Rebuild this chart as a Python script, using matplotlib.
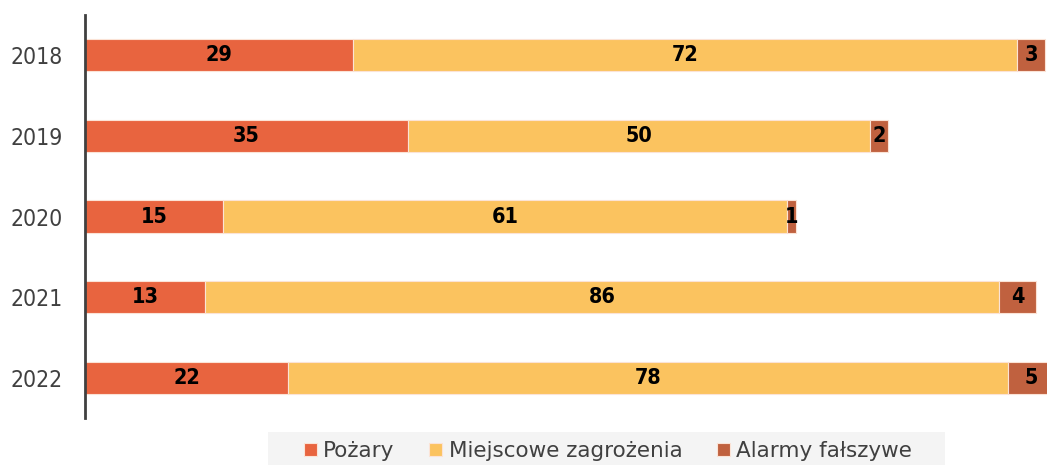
import matplotlib
matplotlib.use("Agg")
import matplotlib.pyplot as plt
from matplotlib.patches import Rectangle
import numpy as np

years = ["2018", "2019", "2020", "2021", "2022"]
pozary = [29, 35, 15, 13, 22]
miejscowe = [72, 50, 61, 86, 78]
alarmy = [3, 2, 1, 4, 5]

series = [
    ("Pożary", pozary, "#E8643F"),
    ("Miejscowe zagrożenia", miejscowe, "#FBC35F"),
    ("Alarmy fałszywe", alarmy, "#C0613F"),
]

plt.rcParams["font.family"] = ["DejaVu Sans"]
plt.rcParams["font.stretch"] = "condensed"

W, H = 1047, 465
fig = plt.figure(figsize=(W / 100, H / 100), dpi=100)
ax = fig.add_axes([85 / W, 1 - 418 / H, 1 - 85 / W, 403 / H])

y = np.arange(len(years))
left = np.zeros(len(years))
for name, vals, color in series:
    vals = np.array(vals, dtype=float)
    ax.barh(y, vals, left=left, height=0.4, color=color,
            edgecolor="#FBE3D6", linewidth=0.8, label=name)
    for yi, l, v in zip(y, left, vals):
        ax.text(l + v / 2, yi, f"{int(v)}", ha="center", va="center",
                fontsize=15.5, fontweight="bold", color="black")
    left += vals

ax.set_xlim(0, 104.2)
ax.set_ylim(4.5, -0.5)
ax.set_yticks(y)
ax.set_yticklabels(years, fontsize=16.5, color="#404040")
ax.tick_params(axis="y", length=0, pad=16)
ax.set_xticks([])
for s in ["top", "right", "bottom"]:
    ax.spines[s].set_visible(False)
ax.spines["left"].set_color("#404040")
ax.spines["left"].set_linewidth(2)

# legend background strip
fig.patches.append(Rectangle((268 / W, 0), (945 - 268) / W, 33 / H,
                             transform=fig.transFigure, facecolor="#F4F4F4",
                             edgecolor="none", zorder=0))
leg = fig.legend(loc="center", bbox_to_anchor=(608 / W, 14 / H), ncol=3,
                 frameon=False, handlelength=0.6, handleheight=0.6,
                 handletextpad=0.3, columnspacing=1.6, borderpad=0,
                 prop={"size": 15.5, "stretch": "normal"})
for t in leg.get_texts():
    t.set_color("#404040")

fig.savefig("out.png", dpi=100)
